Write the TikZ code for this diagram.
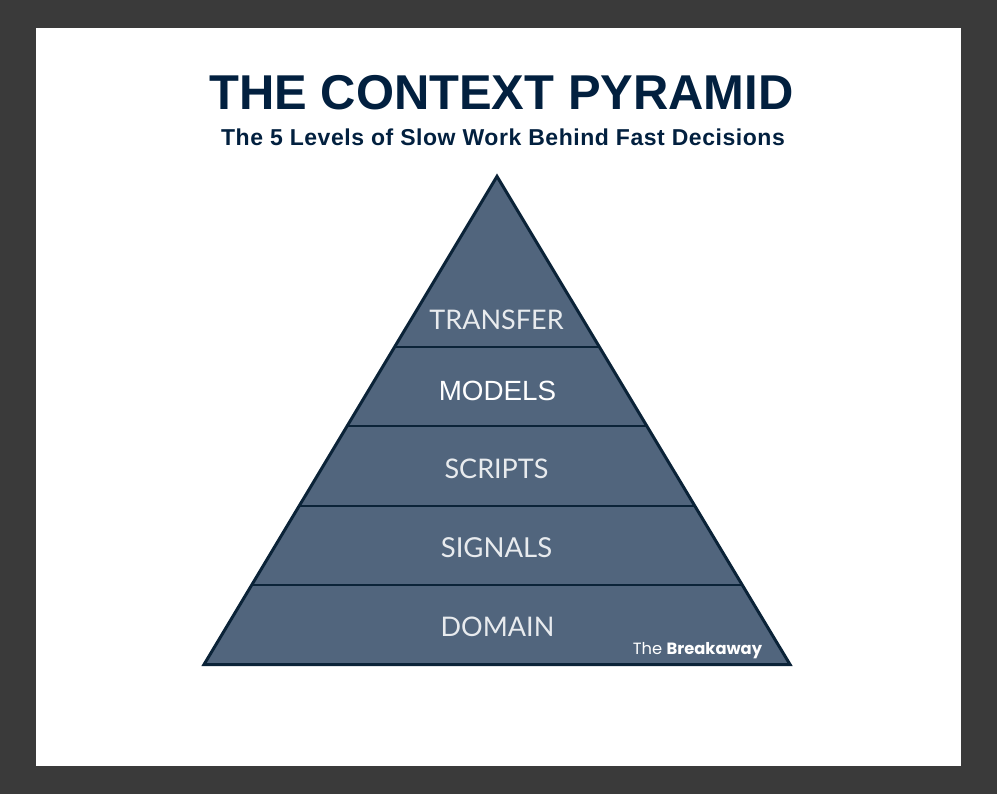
\documentclass[tikz,border=0pt]{standalone}
\usepackage{fontspec}
\setmainfont{Liberation Sans}
\newfontfamily\tierfont{Lato}
\newfontfamily\brandfont{Poppins}
\newfontfamily\subfont[LetterSpace=2.4]{Liberation Sans}
\definecolor{frameGray}{HTML}{3A3A3A}
\definecolor{navyText}{HTML}{02203F}
\definecolor{tierFill}{HTML}{51657D}
\definecolor{tierLine}{HTML}{0B2338}
\definecolor{tierText}{HTML}{E8EBEE}
\tikzset{
  tierlabel/.style={text=tierText,inner sep=0pt,anchor=center,font=\tierfont\fontsize{27}{27}\selectfont},
  tierrule/.style={draw=tierLine,line width=2.8pt},
}
\begin{document}
\begin{tikzpicture}[x=1pt,y=-1pt]
\useasboundingbox (0,0) rectangle (997,794);
\fill[frameGray] (0,0) rectangle (997,794);
\fill[white] (36,28) rectangle (961,766);
\node[inner sep=0pt,text=navyText,font=\bfseries\fontsize{48.9}{48.9}\selectfont] (title) at (501.5,92.5) {THE CONTEXT PYRAMID};
\node[inner sep=0pt,text=navyText,font=\subfont\bfseries\fontsize{23}{23}\selectfont] (subtitle) at (503,137) {The 5 Levels of Slow Work Behind Fast Decisions};
\coordinate (apex) at (497,176.4);
\coordinate (baseL) at (204,664.5);
\coordinate (baseR) at (790,664.5);
\fill[tierFill] (apex) -- (baseR) -- (baseL) -- cycle;
\draw[tierrule] (394,347) -- (600,347);
\draw[tierrule] (347,426) -- (647,426);
\draw[tierrule] (299,506) -- (695,506);
\draw[tierrule] (251,585) -- (743,585);
\draw[draw=tierLine,line width=3pt,line join=miter] (apex) -- (baseR) -- (baseL) -- cycle;
\node[tierlabel] (transfer) at (496.5,319.5) {TRANSFER};
\node[tierlabel,text=white,font=\fontsize{27.8}{27.8}\selectfont] (models) at (497.5,390.5) {MODELS};
\node[tierlabel] (scripts) at (496.5,468.5) {SCRIPTS};
\node[tierlabel,font=\tierfont\fontsize{27.5}{27.5}\selectfont] (signals) at (496.5,547.5) {SIGNALS};
\node[tierlabel] (domain) at (497.5,626.5) {DOMAIN};
\node[inner sep=0pt,text=white,font=\brandfont\fontsize{16.3}{16.3}\selectfont] (brand) at (697.5,651) {The \textbf{Breakaway}};
\end{tikzpicture}
\end{document}
